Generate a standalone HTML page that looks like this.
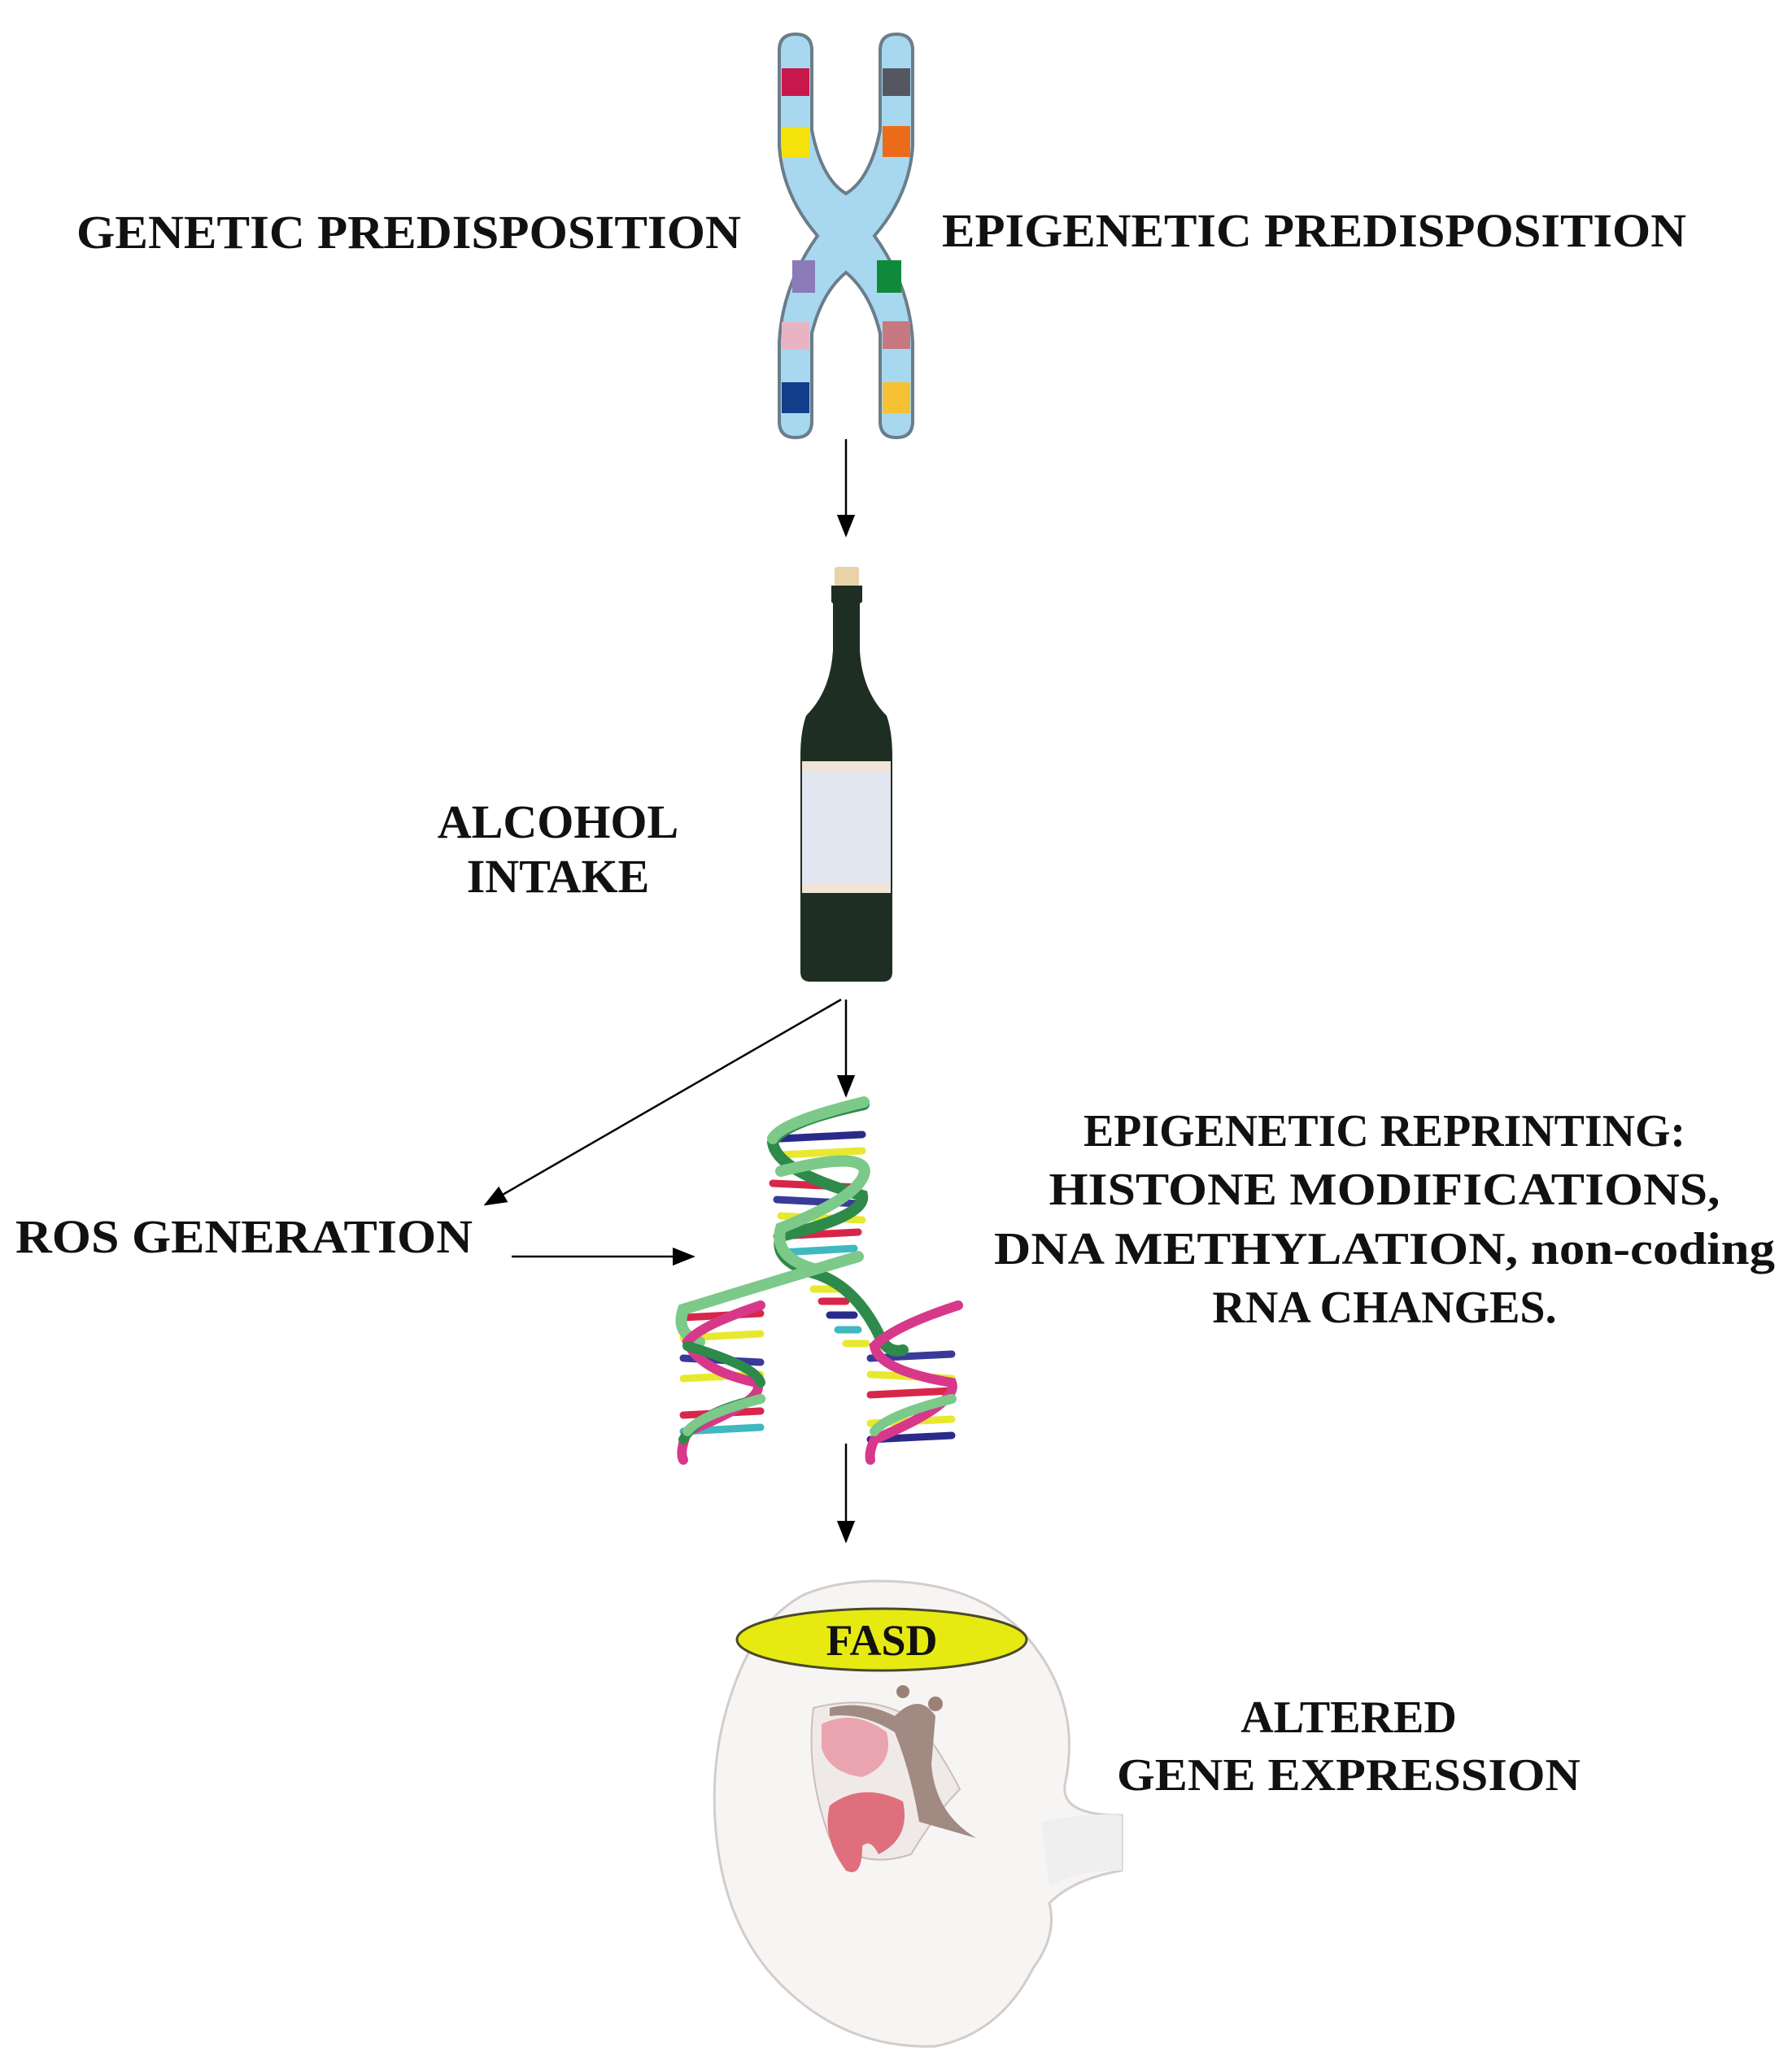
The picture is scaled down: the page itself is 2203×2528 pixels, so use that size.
<!DOCTYPE html>
<html><head><meta charset="utf-8"><style>
html,body{margin:0;padding:0;background:#fff}
svg{display:block}
text{font-family:"Liberation Serif",serif;font-weight:bold;fill:#111}
</style></head><body>
<svg width="2203" height="2528" viewBox="0 0 2203 2528" xmlns="http://www.w3.org/2000/svg">
<defs>
<marker id="ah2" viewBox="0 0 10 10" refX="9" refY="5" markerWidth="28" markerHeight="28" markerUnits="userSpaceOnUse" orient="auto"><path d="M0,1 L10,5 L0,9 z" fill="#000"/></marker>
</defs>

<text x="94" y="305" font-size="58" textLength="817" lengthAdjust="spacingAndGlyphs">GENETIC PREDISPOSITION</text>
<text x="1158" y="303" font-size="58" textLength="915" lengthAdjust="spacingAndGlyphs">EPIGENETIC PREDISPOSITION</text>
<text x="686" y="1030" font-size="58" text-anchor="middle">ALCOHOL</text>
<text x="686" y="1097" font-size="58" text-anchor="middle">INTAKE</text>
<text x="19" y="1540" font-size="58" textLength="562" lengthAdjust="spacingAndGlyphs">ROS GENERATION</text>
<g font-size="56" text-anchor="middle">
<text x="1702" y="1409" textLength="740" lengthAdjust="spacingAndGlyphs">EPIGENETIC REPRINTING:</text>
<text x="1702" y="1481" textLength="825" lengthAdjust="spacingAndGlyphs">HISTONE MODIFICATIONS,</text>
<text x="1702" y="1554" textLength="960" lengthAdjust="spacingAndGlyphs">DNA METHYLATION, non-coding</text>
<text x="1702" y="1626">RNA CHANGES.</text>
<text x="1658" y="2130">ALTERED</text>
<text x="1658" y="2201" textLength="570" lengthAdjust="spacingAndGlyphs">GENE EXPRESSION</text>
</g>

<g stroke="#6b7d8a" stroke-width="4">
<path d="M958,62 Q958,42 978,42 Q998,42 998,62 L998,160 Q1010,220 1040,238 Q1070,220 1082,160 L1082,62 Q1082,42 1102,42 Q1122,42 1122,62 L1122,180 Q1118,240 1075,290 Q1118,350 1122,420 L1122,518 Q1122,538 1102,538 Q1082,538 1082,518 L1082,410 Q1070,360 1040,335 Q1010,360 998,410 L998,518 Q998,538 978,538 Q958,538 958,518 L958,420 Q962,350 1005,290 Q962,240 958,180 Z" fill="#a8d8ef"/>
</g>
<rect x="961" y="84" width="34" height="34" fill="#c8174a"/>
<rect x="1085" y="84" width="34" height="34" fill="#555760"/>
<rect x="961" y="156" width="34" height="38" fill="#f4e20a"/>
<rect x="1085" y="155" width="34" height="38" fill="#ec6b1a"/>
<rect x="974" y="320" width="28" height="40" fill="#8a7ab8"/>
<rect x="1078" y="320" width="30" height="40" fill="#0f8a3a"/>
<rect x="961" y="396" width="34" height="34" fill="#e8b4c4"/>
<rect x="1085" y="395" width="34" height="34" fill="#c87880"/>
<rect x="961" y="470" width="34" height="38" fill="#123e8c"/>
<rect x="1085" y="470" width="34" height="38" fill="#f6c233"/>

<line x1="1040" y1="540" x2="1040" y2="658" stroke="#000" stroke-width="2.5" marker-end="url(#ah2)"/>
<line x1="1040" y1="1229" x2="1040" y2="1347" stroke="#000" stroke-width="2.5" marker-end="url(#ah2)"/>
<line x1="1034" y1="1229" x2="597" y2="1481" stroke="#000" stroke-width="2.5" marker-end="url(#ah2)"/>
<line x1="629" y1="1545" x2="852" y2="1545" stroke="#000" stroke-width="2.5" marker-end="url(#ah2)"/>
<line x1="1040" y1="1775" x2="1040" y2="1895" stroke="#000" stroke-width="2.5" marker-end="url(#ah2)"/>

<rect x="1026" y="697" width="30" height="24" rx="3" fill="#e8d2a8"/>
<path d="M1022,720 L1060,720 L1060,740 L1057,742 L1057,800 Q1060,850 1090,880 Q1097,900 1097,930 L1097,1195 Q1097,1207 1085,1207 L996,1207 Q984,1207 984,1195 L984,930 Q984,900 991,880 Q1021,850 1024,800 L1024,742 L1022,740 Z" fill="#1f2e22"/>
<rect x="986" y="936" width="109" height="162" fill="#e2e6f0"/>
<rect x="986" y="936" width="109" height="12" fill="#efe4d6"/>
<rect x="986" y="1086" width="109" height="12" fill="#efe4d6"/>

<g fill="none" stroke-linecap="round">
<g stroke-width="9">
<line x1="960" y1="1400" x2="1060" y2="1395" stroke="#2a2a8a"/>
<line x1="960" y1="1420" x2="1060" y2="1415" stroke="#e8e830"/>
<line x1="950" y1="1455" x2="1055" y2="1460" stroke="#d8264a"/>
<line x1="955" y1="1475" x2="1055" y2="1480" stroke="#3a3a9a"/>
<line x1="960" y1="1495" x2="1060" y2="1500" stroke="#e8e830"/>
<line x1="955" y1="1520" x2="1055" y2="1515" stroke="#d8264a"/>
<line x1="960" y1="1540" x2="1050" y2="1535" stroke="#40b8c0"/>
<line x1="840" y1="1620" x2="935" y2="1615" stroke="#d8264a"/>
<line x1="840" y1="1645" x2="935" y2="1640" stroke="#e8e830"/>
<line x1="840" y1="1670" x2="935" y2="1675" stroke="#3a3a9a"/>
<line x1="840" y1="1695" x2="935" y2="1690" stroke="#e8e830"/>
<line x1="840" y1="1740" x2="935" y2="1735" stroke="#d8264a"/>
<line x1="840" y1="1760" x2="935" y2="1755" stroke="#40b8c0"/>
<line x1="1070" y1="1670" x2="1170" y2="1665" stroke="#3a3a9a"/>
<line x1="1070" y1="1690" x2="1170" y2="1695" stroke="#e8e830"/>
<line x1="1070" y1="1715" x2="1170" y2="1710" stroke="#d8264a"/>
<line x1="1070" y1="1750" x2="1170" y2="1745" stroke="#e8e830"/>
<line x1="1070" y1="1770" x2="1170" y2="1765" stroke="#2a2a8a"/>
<line x1="1000" y1="1585" x2="1030" y2="1585" stroke="#e8e830"/>
<line x1="1010" y1="1600" x2="1040" y2="1600" stroke="#d8264a"/>
<line x1="1020" y1="1617" x2="1050" y2="1617" stroke="#2a2a8a"/>
<line x1="1030" y1="1635" x2="1055" y2="1635" stroke="#40b8c0"/>
<line x1="1040" y1="1652" x2="1065" y2="1652" stroke="#e8e830"/>
</g>
<path d="M1062,1358 Q960,1380 950,1405 Q955,1440 1060,1470 Q1065,1495 960,1520 Q950,1550 1000,1565 Q1050,1580 1080,1640 Q1090,1665 1110,1660" stroke="#2e8a4a" stroke-width="14"/>
<path d="M1062,1355 Q960,1380 950,1400 M960,1440 Q1060,1415 1063,1440 Q1060,1470 960,1510 Q950,1545 1000,1560 M1055,1545 Q970,1570 840,1610 Q830,1640 860,1650" stroke="#7cc98a" stroke-width="14"/>
<path d="M935,1605 Q860,1630 845,1650 Q860,1685 930,1700 Q945,1720 845,1760 Q835,1785 840,1795" stroke="#d8388a" stroke-width="12"/>
<path d="M845,1655 Q930,1680 935,1700 M935,1720 Q860,1735 840,1770" stroke="#2e8a4a" stroke-width="12"/>
<path d="M935,1720 Q860,1740 845,1760" stroke="#7cc98a" stroke-width="12"/>
<path d="M1178,1605 Q1100,1630 1075,1655 Q1080,1685 1170,1700 Q1180,1725 1075,1770 Q1068,1785 1070,1795" stroke="#d8388a" stroke-width="12"/>
<path d="M1170,1720 Q1090,1740 1075,1760" stroke="#7cc98a" stroke-width="12"/>
</g>

<g>
<path d="M1080,1944 Q1200,1944 1260,2010 Q1330,2090 1310,2190 Q1300,2230 1370,2232 L1379,2232 L1379,2300 Q1320,2310 1290,2340 Q1300,2380 1270,2420 Q1230,2500 1150,2516 Q1040,2520 960,2440 Q890,2370 880,2250 Q872,2160 900,2080 Q930,1990 990,1960 Q1030,1944 1080,1944 Z" fill="#f7f5f4" stroke="#d2cdcb" stroke-width="3"/>
<path d="M1000,2100 Q990,2180 1020,2260 Q1060,2300 1120,2280 Q1150,2230 1180,2200 Q1160,2160 1130,2120 Q1080,2080 1000,2100 Z" fill="#efeae8" stroke="#cbbebc" stroke-width="2"/>
<path d="M1010,2120 Q1050,2100 1090,2130 Q1100,2170 1060,2185 Q1020,2180 1010,2150 Z" fill="#eaa4b0"/>
<path d="M1020,2220 Q1060,2190 1110,2215 Q1120,2260 1080,2280 Q1070,2260 1060,2270 Q1060,2310 1040,2300 Q1010,2260 1020,2220 Z" fill="#df6f7c"/>
<path d="M1020,2100 Q1060,2090 1100,2110 Q1130,2080 1150,2110 L1145,2170 Q1150,2230 1200,2260 L1130,2240 Q1120,2180 1100,2130 Q1060,2105 1020,2110 Z" fill="#a08a82"/>
<circle cx="1110" cy="2080" r="8" fill="#9c8078"/>
<circle cx="1150" cy="2095" r="9" fill="#9c8078"/>
<path d="M1280,2240 Q1340,2228 1379,2232 L1379,2300 Q1320,2300 1290,2320 Z" fill="#efefef"/>
</g>
<ellipse cx="1084" cy="2016" rx="178" ry="38" fill="#e6ea10" stroke="#4a4a2a" stroke-width="3"/>
<text x="1084" y="2035" font-size="54" text-anchor="middle">FASD</text>
</svg>
</body></html>
